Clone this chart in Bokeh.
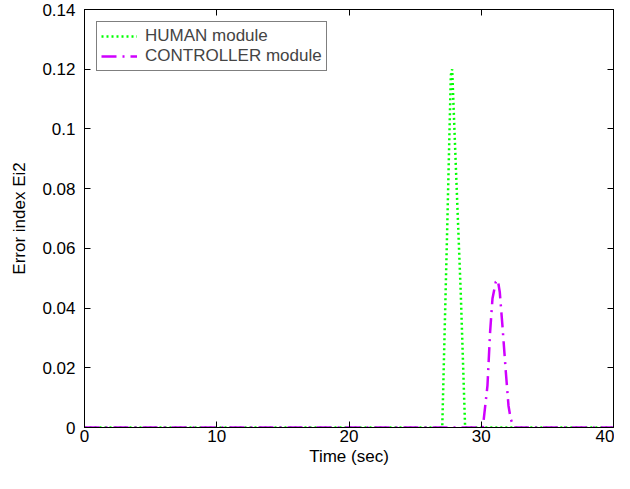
from bokeh.plotting import figure
from bokeh.models import LinearAxis, FixedTicker, Legend, LegendItem, ColumnDataSource
from bokeh.embed import file_html
from bokeh.resources import INLINE

# ---- data ----
human_t = [0, 27.05, 27.4, 27.7, 27.8, 28.1, 28.45, 28.78, 40]
human_e = [0, 0, 0.062, 0.118, 0.12, 0.085, 0.045, 0, 0]

ctrl_t = [0, 30.12, 30.47, 30.67, 30.85, 31.1, 31.25, 31.4, 31.6, 31.86, 32.06, 32.23, 32.49, 40]
ctrl_e = [0, 0, 0.014, 0.032, 0.0432, 0.0488, 0.0494, 0.0454, 0.0342, 0.0185, 0.0073, 0.0028, 0.0, 0]

x_ticks = [0, 10, 20, 30, 40]
y_ticks = [0, 0.02, 0.04, 0.06, 0.08, 0.1, 0.12, 0.14]
y_tick_labels = ["0", "0.02", "0.04", "0.06", "0.08", "0.1", "0.12", "0.14"]

series_names = ["HUMAN module", "CONTROLLER module"]
x_label = "Time (sec)"
y_label = "Error index Ei2"

FONT = "Liberation Sans"
FS = "17px"

p = figure(width=614, height=473, output_backend="svg", toolbar_location=None,
           x_range=(0, 40), y_range=(0, 0.14),
           min_border_left=84, min_border_right=1, min_border_top=9, min_border_bottom=46)
p.background_fill_color = "white"
p.border_fill_color = "white"
p.outline_line_color = "black"
p.outline_line_width = 1
p.xgrid.visible = False
p.ygrid.visible = False

def style_axis(ax, labels=True):
    ax.axis_line_color = "black"
    ax.axis_line_width = 1
    ax.major_tick_in = 6
    ax.major_tick_out = 0
    ax.major_tick_line_color = "black"
    ax.minor_tick_line_color = None
    ax.major_label_text_font = FONT
    ax.major_label_text_font_size = FS if labels else "0px"
    ax.major_label_text_color = "black"
    ax.axis_label_text_font = FONT
    ax.axis_label_text_font_size = FS
    ax.axis_label_text_font_style = "normal"
    ax.axis_label_text_color = "black"

xa = p.xaxis[0]
xa.ticker = FixedTicker(ticks=x_ticks)
xa.axis_label = x_label
style_axis(xa)
xa.major_label_standoff = 2
xa.axis_label_standoff = 2

ya = p.yaxis[0]
ya.ticker = FixedTicker(ticks=y_ticks)
ya.major_label_overrides = {t: s for t, s in zip(y_ticks, y_tick_labels)}
ya.axis_label = y_label
style_axis(ya)
ya.major_label_standoff = 9
ya.axis_label_standoff = 10

top = LinearAxis(ticker=FixedTicker(ticks=x_ticks))
style_axis(top, labels=False)
top.major_label_standoff = 0
p.add_layout(top, "above")

right = LinearAxis(ticker=FixedTicker(ticks=y_ticks))
style_axis(right, labels=False)
right.major_label_standoff = 0
p.add_layout(right, "right")

src_h = ColumnDataSource(dict(t=human_t, e=human_e))
src_c = ColumnDataSource(dict(t=ctrl_t, e=ctrl_e))

r_h = p.line("t", "e", source=src_h, line_color="#00ff00", line_width=2.5,
             line_dash="2 3")
r_c = p.line("t", "e", source=src_c, line_color="#d000ff", line_width=2.5,
             line_dash="15 6 2 6")

legend = Legend(items=[LegendItem(label=series_names[0], renderers=[r_h]),
                       LegendItem(label=series_names[1], renderers=[r_c])],
                location="top_left")
legend.margin = 12
legend.padding = 4
legend.spacing = 0
legend.glyph_width = 36
legend.glyph_height = 20
legend.label_standoff = 8
legend.label_text_font = FONT
legend.label_text_font_size = FS
legend.label_height = 20
legend.border_line_color = "black"
legend.border_line_width = 1
legend.background_fill_color = "white"
legend.background_fill_alpha = 1
p.add_layout(legend, "center")

open("out.html", "w").write(file_html(p, INLINE))
